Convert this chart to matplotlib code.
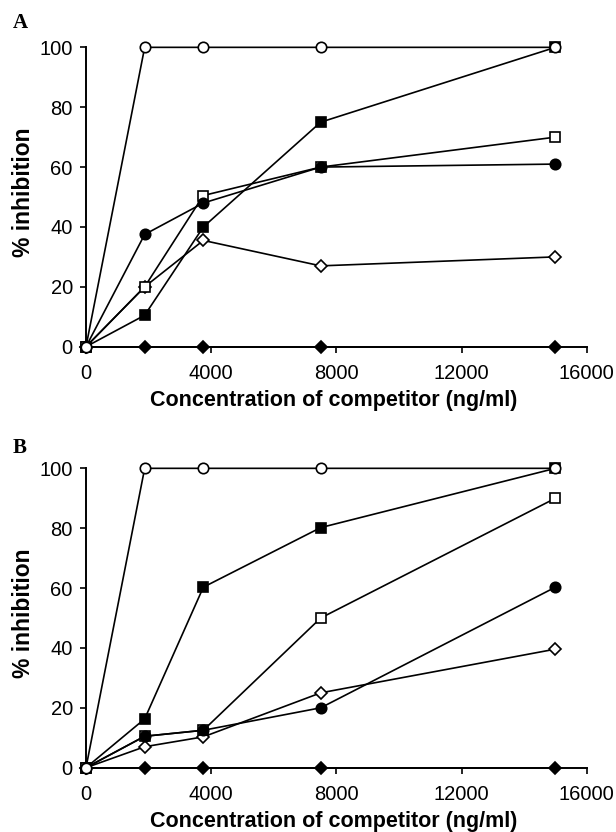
import matplotlib
matplotlib.use("Agg")
import matplotlib.pyplot as plt

conc = [0, 1875, 3750, 7500, 15000]

# Panel A
a_open_circle = [0, 100, 100, 100, 100]
a_filled_square = [0, 10.5, 40, 75, 100]
a_open_square = [0, 20, 50.5, 60, 70]
a_filled_circle = [0, 37.5, 48, 60, 61]
a_open_diamond = [0, 20, 35.5, 27, 30]
a_filled_diamond = [0, 0, 0, 0, 0]

# Panel B
b_open_circle = [0, 100, 100, 100, 100]
b_filled_square = [0, 16.3, 60.3, 80.2, 100]
b_open_square = [0, 10.5, 12.5, 50, 90]
b_filled_circle = [0, 10.5, 12.5, 20, 60.3]
b_open_diamond = [0, 7, 10.3, 25, 39.6]
b_filled_diamond = [0, 0, 0, 0, 0]

xticks = [0, 4000, 8000, 12000, 16000]
yticks = [0, 20, 40, 60, 80, 100]

plt.rcParams['font.family'] = ['Liberation Sans', 'DejaVu Sans']

fig = plt.figure(figsize=(6.16, 8.32), dpi=100)

def style(ax):
    for s in ['top', 'right']:
        ax.spines[s].set_visible(False)
    for s in ['left', 'bottom']:
        ax.spines[s].set_linewidth(1.4)
    ax.set_xlim(0, 16000)
    ax.set_ylim(0, 100)
    ax.set_xticks(xticks)
    ax.set_yticks(yticks)
    ax.tick_params(direction='out', length=4.5, width=1.2, labelsize=14.5)
    ax.tick_params(axis='y', pad=5)
    ax.tick_params(axis='x', pad=8)
    ax.set_ylabel('% inhibition', fontsize=16.5, fontweight='bold')
    ax.set_xlabel('Concentration of competitor (ng/ml)', fontsize=15.5, fontweight='bold')
    ax.yaxis.set_label_coords(-0.102, 0.515)
    ax.xaxis.set_label_coords(0.494, -0.1436)

def draw(ax, series):
    for y, m, fc in series:
        ms = 6.5 if m == 'D' else 7.5
        ax.plot(conc, y, color='black', lw=1.2, marker=m, markersize=ms,
                markerfacecolor=fc, markeredgecolor='black', markeredgewidth=1.2,
                clip_on=False, zorder=3)

axA = fig.add_axes([0.1396, 0.5833, 0.8128, 0.3598])
style(axA)
draw(axA, [
    (a_filled_diamond, 'D', 'black'),
    (a_open_diamond, 'D', 'white'),
    (a_filled_square, 's', 'black'),
    (a_open_square, 's', 'white'),
    (a_filled_circle, 'o', 'black'),
    (a_open_circle, 'o', 'white'),
])
fig.text(13 / 616, 1 - 28 / 832, 'A', fontsize=15, fontweight='bold',
         family='Liberation Serif', va='baseline', ha='left')

axB = fig.add_axes([0.1396, 0.0773, 0.8128, 0.3598])
style(axB)
draw(axB, [
    (b_filled_diamond, 'D', 'black'),
    (b_open_diamond, 'D', 'white'),
    (b_filled_square, 's', 'black'),
    (b_open_square, 's', 'white'),
    (b_filled_circle, 'o', 'black'),
    (b_open_circle, 'o', 'white'),
])
fig.text(13 / 616, 1 - 453 / 832, 'B', fontsize=15, fontweight='bold',
         family='Liberation Serif', va='baseline', ha='left')

fig.savefig('out.png', dpi=100)
